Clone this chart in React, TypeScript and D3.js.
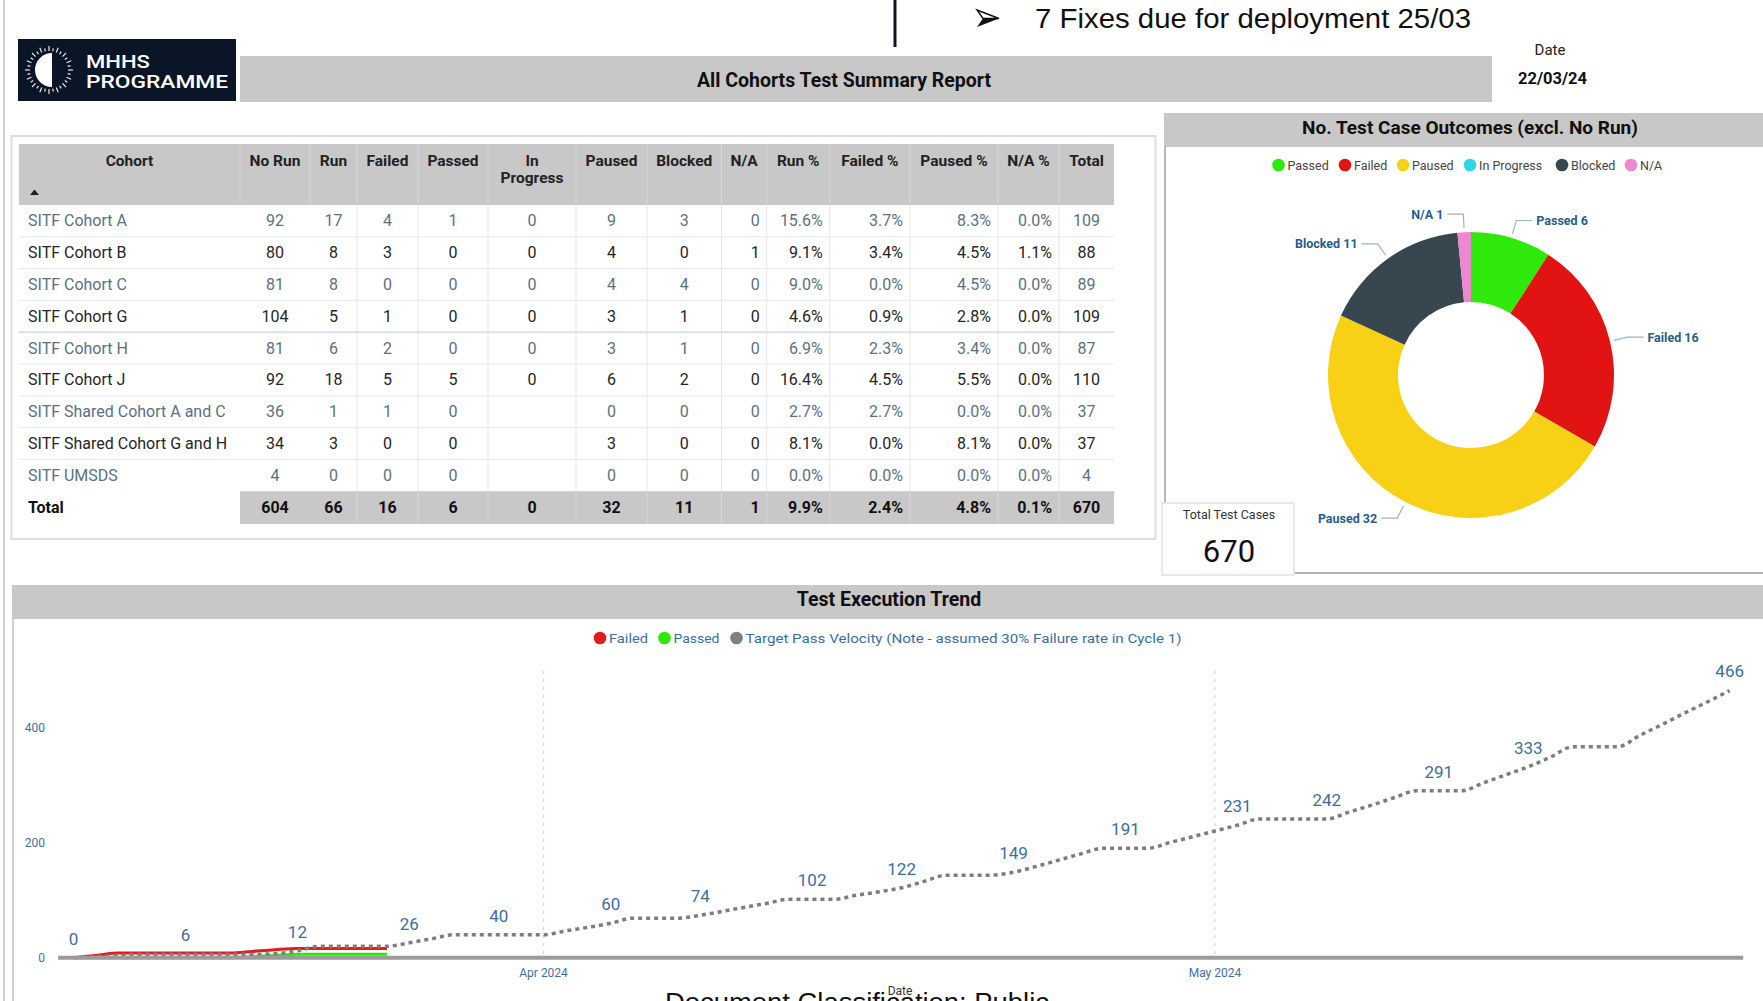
import React from "react";
import * as d3 from "d3";

// ---------------- DATA ----------------
const cohorts = [
  "SITF Cohort A",
  "SITF Cohort B",
  "SITF Cohort C",
  "SITF Cohort G",
  "SITF Cohort H",
  "SITF Cohort J",
  "SITF Shared Cohort A and C",
  "SITF Shared Cohort G and H",
  "SITF UMSDS",
];
const noRun = [92, 80, 81, 104, 81, 92, 36, 34, 4];
const run = [17, 8, 8, 5, 6, 18, 1, 3, 0];
const failed = [4, 3, 0, 1, 2, 5, 1, 0, 0];
const passed = [1, 0, 0, 0, 0, 5, 0, 0, 0];
const inProgress: (number | null)[] = [0, 0, 0, 0, 0, 0, null, null, null];
const paused = [9, 4, 4, 3, 3, 6, 0, 3, 0];
const blocked = [3, 0, 4, 1, 1, 2, 0, 0, 0];
const na = [0, 1, 0, 0, 0, 0, 0, 0, 0];
const runPct = ["15.6%", "9.1%", "9.0%", "4.6%", "6.9%", "16.4%", "2.7%", "8.1%", "0.0%"];
const failedPct = ["3.7%", "3.4%", "0.0%", "0.9%", "2.3%", "4.5%", "2.7%", "0.0%", "0.0%"];
const pausedPct = ["8.3%", "4.5%", "4.5%", "2.8%", "3.4%", "5.5%", "0.0%", "8.1%", "0.0%"];
const naPct = ["0.0%", "1.1%", "0.0%", "0.0%", "0.0%", "0.0%", "0.0%", "0.0%", "0.0%"];
const rowTotals = [109, 88, 89, 109, 87, 110, 37, 37, 4];
const totalRow = ["604", "66", "16", "6", "0", "32", "11", "1", "9.9%", "2.4%", "4.8%", "0.1%", "670"];
const headers = ["Cohort", "No Run", "Run", "Failed", "Passed", "In|Progress", "Paused", "Blocked", "N/A", "Run %", "Failed %", "Paused %", "N/A %", "Total"];

const outcomeLabels = ["Passed", "Failed", "Paused", "In Progress", "Blocked", "N/A"];
const outcomeValues = [6, 16, 32, 0, 11, 1];
const outcomeColors = ["#2fe80c", "#e21313", "#f8d116", "#2fd5e6", "#37464f", "#ee86d0"];
const totalTestCases = 670;

const trendDates = [
  "2024-03-11", "2024-03-12", "2024-03-13", "2024-03-14", "2024-03-15", "2024-03-16", "2024-03-17",
  "2024-03-18", "2024-03-19", "2024-03-20", "2024-03-21", "2024-03-22", "2024-03-23", "2024-03-24",
  "2024-03-25", "2024-03-26", "2024-03-27", "2024-03-28", "2024-03-29", "2024-03-30", "2024-03-31",
  "2024-04-01", "2024-04-02", "2024-04-03", "2024-04-04", "2024-04-05", "2024-04-06", "2024-04-07",
  "2024-04-08", "2024-04-09", "2024-04-10", "2024-04-11", "2024-04-12", "2024-04-13", "2024-04-14",
  "2024-04-15", "2024-04-16", "2024-04-17", "2024-04-18", "2024-04-19", "2024-04-20", "2024-04-21",
  "2024-04-22", "2024-04-23", "2024-04-24", "2024-04-25", "2024-04-26", "2024-04-27", "2024-04-28",
  "2024-04-29", "2024-04-30", "2024-05-01", "2024-05-02", "2024-05-03", "2024-05-04", "2024-05-05",
  "2024-05-06", "2024-05-07", "2024-05-08", "2024-05-09", "2024-05-10", "2024-05-11", "2024-05-12",
  "2024-05-13", "2024-05-14", "2024-05-15", "2024-05-16", "2024-05-17", "2024-05-18", "2024-05-19",
  "2024-05-20", "2024-05-21", "2024-05-22", "2024-05-23", "2024-05-24",
];
const targetVelocity = [
  0, 2, 4, 6, 6, 6, 6,
  6, 6, 7, 12, 20, 20, 20,
  20, 26, 33, 40, 40, 40, 40,
  40, 47, 53, 60, 69, 69, 69,
  74, 81, 88, 95, 102, 102, 102,
  109, 115, 122, 133, 144, 144, 144,
  149, 159, 170, 181, 191, 191, 191,
  201, 211, 221, 231, 242, 242, 242,
  242, 254, 266, 279, 291, 291, 291,
  305, 319, 333, 350, 368, 368, 368,
  388, 407, 427, 446, 466,
];
const actualDates = [
  "2024-03-11", "2024-03-12", "2024-03-13", "2024-03-14", "2024-03-15", "2024-03-16", "2024-03-17",
  "2024-03-18", "2024-03-19", "2024-03-20", "2024-03-21", "2024-03-22", "2024-03-23", "2024-03-24",
  "2024-03-25",
];
const failedTrend = [0, 4, 8, 8, 8, 8, 8, 8, 11, 14, 16, 16, 16, 16, 16];
const passedTrend = [0, 0, 0, 0, 0, 0, 0, 0, 2, 4, 6, 6, 6, 6, 6];
const labelledDates = [
  "2024-03-11", "2024-03-16", "2024-03-21", "2024-03-26", "2024-03-30", "2024-04-04", "2024-04-08",
  "2024-04-13", "2024-04-17", "2024-04-22", "2024-04-27", "2024-05-02", "2024-05-06", "2024-05-11",
  "2024-05-15", "2024-05-24",
];
const trendLegend = ["Failed", "Passed", "Target Pass Velocity (Note - assumed 30% Failure rate in Cycle 1)"];
const trendLegendColors = ["#e31b1b", "#2fe80c", "#808080"];

// ---------------- LAYOUT ----------------
const W = 1763;
const H = 1001;
const FONT = "Roboto, 'DejaVu Sans', Arial, sans-serif";
const colX = [19, 240, 310, 357, 418, 488, 576, 647, 721.5, 766.7, 829.8, 910, 998, 1059, 1114];
const colAlign = ["left", "center", "center", "center", "center", "center", "center", "center", "right", "right", "right", "right", "right", "center"];
const headTop = 144;
const headBottom = 205;
const rowH = 31.8;
const TFS = 15.5;
const BFS = 16;

const parse = d3.timeParse("%Y-%m-%d");

function Logo() {
  const cx = 49, cy = 70;
  const ticks = d3.range(0, 360, 11.25);
  return (
    <g>
      <rect x={18} y={39} width={218} height={62} fill="#0b1528" />
      {ticks.map((a, i) => {
        const r = (a * Math.PI) / 180;
        const r1 = 19, r2 = i % 2 ? 22 : 24;
        return (
          <line key={i} x1={cx + r1 * Math.sin(r)} y1={cy - r1 * Math.cos(r)} x2={cx + r2 * Math.sin(r)} y2={cy - r2 * Math.cos(r)} stroke="#ffffff" strokeWidth={1.2} opacity={0.9} />
        );
      })}
      <path d={`M${cx + 3},${cy - 17} A17,17 0 0 0 ${cx + 3},${cy + 17} Z`} fill="#ffffff" />
      <text x={86} y={68} fill="#fff" fontFamily={FONT} fontWeight={500} fontSize={19} textLength={64} lengthAdjust="spacingAndGlyphs">MHHS</text>
      <text x={86} y={88} fill="#fff" fontFamily={FONT} fontWeight={500} fontSize={19} textLength={142} lengthAdjust="spacingAndGlyphs">PROGRAMME</text>
    </g>
  );
}

function Table() {
  const cellText = (i: number): (string | null)[] => [
    cohorts[i],
    String(noRun[i]),
    String(run[i]),
    String(failed[i]),
    String(passed[i]),
    inProgress[i] === null ? null : String(inProgress[i]),
    String(paused[i]),
    String(blocked[i]),
    String(na[i]),
    runPct[i],
    failedPct[i],
    pausedPct[i],
    naPct[i],
    String(rowTotals[i]),
  ];
  const xFor = (c: number) => {
    if (colAlign[c] === "left") return colX[c] + 9;
    if (colAlign[c] === "right") return colX[c + 1] - 7;
    return (colX[c] + colX[c + 1]) / 2;
  };
  const anchorFor = (c: number) => (colAlign[c] === "left" ? "start" : colAlign[c] === "right" ? "end" : "middle");
  const nRows = cohorts.length;
  const totalTop = headBottom + nRows * rowH;
  return (
    <g fontFamily={FONT}>
      <rect x={11.5} y={136} width={1144} height={403} fill="#fff" stroke="#dedede" strokeWidth={2} />
      <rect x={colX[0]} y={headTop} width={colX[colX.length - 1] - colX[0]} height={headBottom - headTop} fill="#c8c8c8" />
      {colX.slice(1, -1).map((x, i) => (
        <line key={"hd" + i} x1={x} x2={x} y1={headTop} y2={headBottom} stroke="#d6d6d6" strokeWidth={1} />
      ))}
      {headers.map((h, c) => {
        const parts = h.split("|");
        const x = (colX[c] + colX[c + 1]) / 2;
        return (
          <text key={"h" + c} x={x} textAnchor="middle" fontWeight={700} fontSize={TFS} fill="#222">
            {parts.map((p, k) => (
              <tspan key={k} x={x} y={166 + k * 16.5}>{p}</tspan>
            ))}
          </text>
        );
      })}
      <path d="M30,195 L34.5,189.5 L39,195 Z" fill="#222" />
      {colX.slice(3, -1).map((x, i) => (
        <line key={"bd" + i} x1={x} x2={x} y1={headBottom} y2={totalTop} stroke="#e3e7eb" strokeWidth={1} />
      ))}
      {d3.range(1, nRows).map((i) => (
        <line key={"rs" + i} x1={colX[0]} x2={colX[colX.length - 1]} y1={headBottom + i * rowH} y2={headBottom + i * rowH} stroke={i === 4 ? "#dbe1e6" : "#e8ecef"} strokeWidth={i === 4 ? 2 : 1.2} />
      ))}
      {cohorts.map((_, i) => {
        const yc = headBottom + i * rowH + rowH / 2 + 5.5;
        const color = i % 2 === 0 ? "#5c7082" : "#252525";
        return cellText(i).map((t, c) =>
          t === null ? null : (
            <text key={i + "-" + c} x={xFor(c)} y={yc} textAnchor={anchorFor(c)} fontSize={BFS} fill={color}>
              {t}
            </text>
          )
        );
      })}
      <rect x={colX[1]} y={totalTop} width={colX[colX.length - 1] - colX[1]} height={rowH + 1} fill="#c8c8c8" />
      {colX.slice(3, -1).map((x, i) => (
        <line key={"td" + i} x1={x} x2={x} y1={totalTop} y2={totalTop + rowH + 1} stroke="#d6d6d6" strokeWidth={1} />
      ))}
      <text x={28} y={totalTop + rowH / 2 + 5.5} fontWeight={700} fontSize={BFS} fill="#111">Total</text>
      {totalRow.map((t, k) => (
        <text key={"tt" + k} x={xFor(k + 1)} y={totalTop + rowH / 2 + 5.5} textAnchor={anchorFor(k + 1)} fontWeight={700} fontSize={BFS} fill="#111">
          {t}
        </text>
      ))}
    </g>
  );
}

function Donut() {
  const cx = 1471, cy = 375, R = 143, r = 73;
  const pie = d3.pie<number>().sort(null).value((d) => d)(outcomeValues);
  const arc = d3.arc<d3.PieArcDatum<number>>().innerRadius(r).outerRadius(R);
  const legendX = [1278.5, 1345, 1403, 1470, 1562, 1631];
  return (
    <g fontFamily={FONT}>
      <rect x={1164} y={113} width={W - 1164} height={34} fill="#c8c8c8" />
      <text x={1470} y={134} textAnchor="middle" fontWeight={700} fontSize={19} fill="#111">No. Test Case Outcomes (excl. No Run)</text>
      <line x1={1165} x2={1165} y1={146} y2={504} stroke="#b8b8b8" strokeWidth={2} />
      <line x1={1294} x2={W} y1={573} y2={573} stroke="#b0b0b0" strokeWidth={2} />
      {outcomeLabels.map((l, i) => (
        <g key={l}>
          <circle cx={legendX[i]} cy={165} r={6.3} fill={outcomeColors[i]} />
          <text x={legendX[i] + 9} y={169.5} fontSize={12.5} fill="#444">{l}</text>
        </g>
      ))}
      <g transform={`translate(${cx},${cy})`}>
        {pie.map((p, i) => (p.value > 0 ? <path key={i} d={arc(p) || ""} fill={outcomeColors[i]} /> : null))}
      </g>
      {pie.map((p, i) => {
        if (p.value <= 0) return null;
        const a = (p.startAngle + p.endAngle) / 2;
        const right = Math.sin(a) >= 0;
        const p1 = [cx + (R + 4) * Math.sin(a), cy - (R + 4) * Math.cos(a)];
        const p2 = [cx + (R + 18) * Math.sin(a), cy - (R + 18) * Math.cos(a)];
        const p3 = [p2[0] + (right ? 16 : -16), p2[1]];
        return (
          <g key={"lb" + i}>
            <polyline points={`${p1} ${p2} ${p3}`} fill="none" stroke="#9fb2c6" strokeWidth={1.2} />
            <text x={p3[0] + (right ? 4 : -4)} y={p3[1] + 4.5} textAnchor={right ? "start" : "end"} fontWeight={700} fontSize={12.5} fill="#2a5c8c">
              {`${outcomeLabels[i]} ${p.value}`}
            </text>
          </g>
        );
      })}
      <rect x={1162} y={503} width={132} height={72} fill="#fff" stroke="#e2e2e2" strokeWidth={1.5} />
      <text x={1229} y={518.5} textAnchor="middle" fontSize={12.5} fill="#333">Total Test Cases</text>
      <text x={1229} y={562} textAnchor="middle" fontSize={31} fill="#111">{totalTestCases}</text>
    </g>
  );
}

function Trend() {
  const x = d3.scaleTime().domain([parse("2024-03-11")!, parse("2024-05-24")!]).range([73.6, 1729.7]);
  const y = d3.scaleLinear().domain([0, 500]).range([957.7, 671]);
  const tDates = trendDates.map((d) => parse(d)!);
  const aDates = actualDates.map((d) => parse(d)!);
  const line = d3.line<[Date, number]>().x((d) => x(d[0])).y((d) => y(d[1])).curve(d3.curveMonotoneX);
  const target = line(tDates.map((d, i) => [d, targetVelocity[i]]) as [Date, number][]) || "";
  const fail = line(aDates.map((d, i) => [d, failedTrend[i]]) as [Date, number][]) || "";
  const pass = line(aDates.map((d, i) => [d, passedTrend[i]]) as [Date, number][]) || "";
  const months = x.ticks(d3.timeMonth.every(1)!);
  const fmt = d3.timeFormat("%b %Y");
  const legendX = [600, 664.5, 736.5];
  const legendLen = [39, 46, 436];
  return (
    <g fontFamily={FONT}>
      <rect x={12} y={585} width={W - 12} height={34} fill="#c8c8c8" />
      <text x={889} y={606} textAnchor="middle" fontWeight={700} fontSize={19.5} fill="#111">Test Execution Trend</text>
      <line x1={13} x2={13} y1={619} y2={H} stroke="#cfcfcf" strokeWidth={2} />
      {trendLegend.map((l, i) => (
        <g key={l}>
          <circle cx={legendX[i]} cy={638} r={6.3} fill={trendLegendColors[i]} />
          <text x={legendX[i] + 9} y={643} fontSize={13.5} fill="#3a6ea5" textLength={legendLen[i]} lengthAdjust="spacingAndGlyphs">{l}</text>
        </g>
      ))}
      {months.map((m) => (
        <g key={+m}>
          <line x1={x(m)} x2={x(m)} y1={y(500)} y2={y(0)} stroke="#c9daea" strokeWidth={1.3} strokeDasharray="3 5" />
          <text x={x(m)} y={977} textAnchor="middle" fontSize={12} fill="#3f6f9f">{fmt(m)}</text>
        </g>
      ))}
      {y.ticks(3).map((t) => (
        <text key={t} x={45} y={y(t) + 4} textAnchor="end" fontSize={12} fill="#3f6f9f">{t}</text>
      ))}
      <path d={fail} fill="none" stroke="#e31b1b" strokeWidth={3} />
      <path d={pass} fill="none" stroke="#2fe80c" strokeWidth={3} />
      <path d={target} fill="none" stroke="#7d7d7d" strokeWidth={3.5} strokeDasharray="4 4" />
      <line x1={x.range()[0] - 15.5} x2={x.range()[1] + 13.5} y1={y(0)} y2={y(0)} stroke="#9b9b9b" strokeWidth={4} />
      {labelledDates.map((ds) => {
        const idx = trendDates.indexOf(ds);
        const v = targetVelocity[idx];
        return (
          <text key={ds} x={x(parse(ds)!)} y={y(v) - 13} textAnchor="middle" fontSize={17} fill="#3d6e9e">{v}</text>
        );
      })}
      <text x={900} y={995} textAnchor="middle" fontSize={12} fill="#333">Date</text>
    </g>
  );
}

export default function App() {
  return (
    <div style={{ position: "fixed", left: 0, top: 0, width: W, height: H, overflow: "hidden", background: "#fff" }}>
      <svg width={W} height={H} viewBox={`0 0 ${W} ${H}`} style={{ display: "block" }}>
        <rect x={0} y={0} width={W} height={H} fill="#ffffff" />
        <line x1={4} x2={4} y1={0} y2={H} stroke="#cfcfcf" strokeWidth={2} />
        <line x1={895} x2={895} y1={0} y2={47} stroke="#0b1528" strokeWidth={3} />
        <path d="M977,10 L999,18.5 L983,18.5 Z" fill="none" stroke="#111" strokeWidth={1.4} />
        <path d="M983,18.5 L999,18.5 L977,27 Z" fill="#111" />
        <text x={1035} y={28} fontFamily="'Liberation Sans', Arial, sans-serif" fontSize={27} fill="#111" textLength={436} lengthAdjust="spacingAndGlyphs">7 Fixes due for deployment 25/03</text>
        <Logo />
        <rect x={240} y={56} width={1252} height={46} fill="#c8c8c8" />
        <text x={844} y={87} textAnchor="middle" fontFamily={FONT} fontWeight={700} fontSize={19.5} fill="#111">All Cohorts Test Summary Report</text>
        <text x={1550} y={55} textAnchor="middle" fontFamily={FONT} fontSize={15} fill="#222">Date</text>
        <text x={1518} y={84} fontFamily={FONT} fontWeight={700} fontSize={16.5} fill="#111">22/03/24</text>
        <Table />
        <Donut />
        <Trend />
        <text x={857} y={1011} textAnchor="middle" fontFamily="'Liberation Sans', Arial, sans-serif" fontSize={26} fill="#111" textLength={384} lengthAdjust="spacingAndGlyphs">Document Classification: Public</text>
      </svg>
    </div>
  );
}
